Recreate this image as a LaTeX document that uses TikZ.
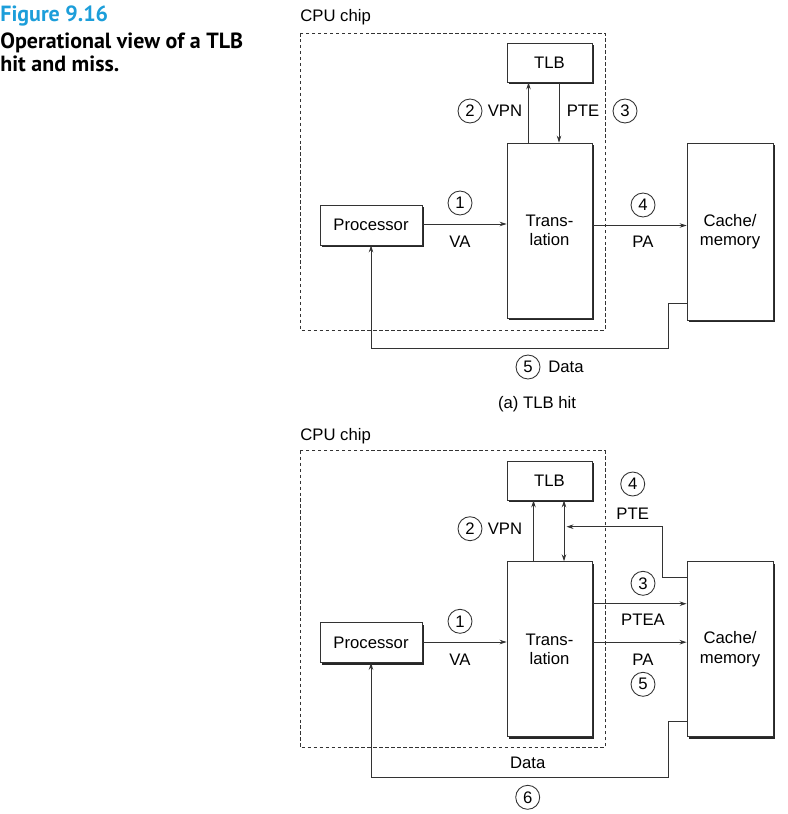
\documentclass[tikz,border=0pt]{standalone}
\usepackage{fontspec}
\setmainfont{Liberation Sans}
\newfontfamily\titlefont{PT Sans}
\usetikzlibrary{arrows.meta,shadows}
\definecolor{figcyan}{RGB}{28,158,218}
\definecolor{linegray}{RGB}{51,51,51}

\begin{document}
\begin{tikzpicture}[x=0.02cm, y=-0.02cm, font=\fontsize{9.5}{11}\selectfont,
    box/.style={draw=linegray, line width=0.5pt, fill=white, inner sep=0pt, align=center,
      drop shadow={shadow xshift=1.2pt, shadow yshift=-1.2pt, fill=black!85, opacity=1}},
    chip/.style={draw=linegray, line width=0.5pt, dash pattern=on 2pt off 1.4pt},
    num/.style={draw=linegray, line width=0.5pt, circle, inner sep=0pt, minimum size=0.48cm},
    wire/.style={draw=linegray, line width=0.5pt},
    caption/.style={inner sep=0pt, align=left, font=\titlefont\bfseries\fontsize{12.5}{13.6}\selectfont},
    >={Stealth[length=4pt, width=2.6pt]}]
    \useasboundingbox (0,0) rectangle (787,814);

    % caption
    \node[caption, anchor=base west, text=figcyan] at (0,21.7) (figno) {Figure 9.16};
    \node[caption, anchor=base west] at (0,72) (figtitle) {Operational view of a TLB\\hit and miss.};

    % (a) TLB hit
    \node[anchor=base west, inner sep=0pt] at (300,22) (chipAlabel) {CPU chip};
    \draw[chip] (300,33) rectangle (605,330);

    \node[box, minimum width=1.7cm, minimum height=0.78cm] at (549.5,62.5) (tlbA) {TLB};
    \node[box, minimum width=1.7cm, minimum height=3.5cm] at (549.5,230.5) (transA) {Trans-\\lation};
    \node[box, minimum width=2.04cm, minimum height=0.8cm] at (371,225) (procA) {Processor};
    \node[box, minimum width=1.72cm, minimum height=3.54cm] at (730,231.5) (cacheA) {Cache/\\memory};
    \coordinate (dataA) at (668,348);

    \draw[wire, ->] ([shift={(-21,0)}]transA.north) -- ([shift={(-21,0)}]tlbA.south);
    \draw[wire, ->] ([shift={(9.5,0)}]tlbA.south) -- ([shift={(9.5,0)}]transA.north);
    \draw[wire, ->] ([shift={(0,-1)}]procA.east) -- ([shift={(0,-1)}]procA.east -| transA.west);
    \draw[wire, ->] ([shift={(0,-5)}]transA.east) -- ([shift={(0,-5)}]transA.east -| cacheA.west);
    \draw[wire, ->] ([shift={(0,-17)}]cacheA.south west) -| (dataA) -| (procA.south);

    \node[num] at (470,111) (vpnnumA) {2};
    \node at (505,111) (vpnA) {VPN};
    \node at (583,111) (pteA) {PTE};
    \node[num] at (625,111) (ptenumA) {3};
    \node[num] at (460,203) (vanumA) {1};
    \node at (460,242) (vaA) {VA};
    \node[num] at (643,205) (panumA) {4};
    \node at (643,242) (paA) {PA};
    \node[num] at (528,367) (datanumA) {5};
    \node at (566,367) (datalabelA) {Data};
    \node at (537,404) (subA) {(a) TLB hit};

    % (b) TLB miss
    \node[anchor=base west, inner sep=0pt] at (300,440) (chipBlabel) {CPU chip};
    \draw[chip] (300,450.7) rectangle (605,747.7);

    \node[box, minimum width=1.7cm, minimum height=0.78cm] at (549.5,480.5) (tlbB) {TLB};
    \node[box, minimum width=1.7cm, minimum height=3.5cm] at (549.5,649.2) (transB) {Trans-\\lation};
    \node[box, minimum width=2.04cm, minimum height=0.8cm] at (371,642.5) (procB) {Processor};
    \node[box, minimum width=1.72cm, minimum height=3.5cm] at (730,649.2) (cacheB) {Cache/\\memory};
    \coordinate (pteB) at (662.3,526.7);
    \coordinate (ptetipB) at (566.5,526.7);
    \coordinate (dataB) at (668,777.3);

    \draw[wire, ->] ([shift={(-16,0)}]transB.north) -- ([shift={(-16,0)}]tlbB.south);
    \draw[wire, <->] ([shift={(14.5,0)}]tlbB.south) -- ([shift={(14.5,0)}]transB.north);
    \draw[wire, ->] ([shift={(0,16.6)}]cacheB.north west) -| (pteB) -- (ptetipB);
    \draw[wire, ->] ([shift={(0,-45.5)}]transB.east) -- ([shift={(0,-45.5)}]transB.east -| cacheB.west);
    \draw[wire, ->] ([shift={(0,-7)}]transB.east) -- ([shift={(0,-7)}]transB.east -| cacheB.west);
    \draw[wire, ->] ([shift={(0,-0.5)}]procB.east) -- ([shift={(0,-0.5)}]procB.east -| transB.west);
    \draw[wire, ->] ([shift={(0,-15.7)}]cacheB.south west) -| (dataB) -| (procB.south);

    \node[num] at (470,528.7) (vpnnumB) {2};
    \node at (505,528.7) (vpnB) {VPN};
    \node[num] at (632.7,484) (ptenumB) {4};
    \node at (632.7,514) (pteB label) {PTE};
    \node[num] at (643,583.3) (pteanumB) {3};
    \node at (643,620) (pteaB) {PTEA};
    \node at (643,660) (paB) {PA};
    \node[num] at (643,684.3) (panumB) {5};
    \node[num] at (460,621.3) (vanumB) {1};
    \node at (460,660) (vaB) {VA};
    \node at (527.7,763.3) (datalabelB) {Data};
    \node[num] at (527.7,797.3) (datanumB) {6};
\end{tikzpicture}
\end{document}
